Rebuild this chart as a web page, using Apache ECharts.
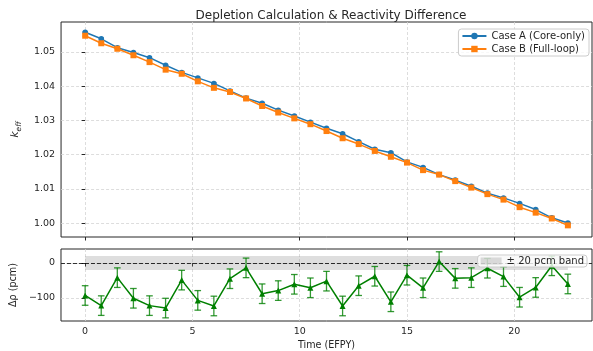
<!DOCTYPE html>
<html><head><meta charset="utf-8">
<script src="https://cdn.jsdelivr.net/npm/echarts@6/dist/echarts.min.js"></script>
<style>html,body{margin:0;padding:0;background:#fff}#c{width:593px;height:351px}</style>
</head><body><div id="c"></div>
<script>
// ---- data ----
const timeEFPY = [0, 0.75, 1.5, 2.25, 3, 3.75, 4.5, 5.25, 6, 6.75, 7.5, 8.25, 9, 9.75, 10.5, 11.25,
  12, 12.75, 13.5, 14.25, 15, 15.75, 16.5, 17.25, 18, 18.75, 19.5, 20.25, 21, 21.75, 22.5];
const keffA = [1.0557,1.0538,1.0512,1.0498,1.0483,1.0461,1.0440,1.0424,1.0408,1.0386,1.0365,1.0350,1.0330,1.0313,1.0295,1.0277,
  1.0261,1.0238,1.0216,1.0206,1.0179,1.0163,1.0142,1.0126,1.0108,1.0088,1.0074,1.0058,1.0040,1.0016,1.0001];
const keffB = [1.0547,1.0525,1.0509,1.0490,1.0470,1.0448,1.0436,1.0414,1.0395,1.0383,1.0364,1.0342,1.0323,1.0306,1.0289,1.0269,
  1.0248,1.0231,1.0211,1.0194,1.0177,1.0155,1.0142,1.0123,1.0104,1.0085,1.0069,1.0047,1.0031,1.0014,0.9994];
const errA = [0.0002,0.0002,0.0002,0.0002,0.0002,0.0002,0.0002,0.0002,0.0002,0.0002,0.0002,0.0002,0.0002,0.0002,0.0002,0.0002,
  0.0002,0.0002,0.0002,0.0002,0.0002,0.0002,0.0002,0.0002,0.0002,0.0002,0.0002,0.0002,0.0002,0.0002,0.0002];
const errB = [0.0002,0.0002,0.0002,0.0002,0.0002,0.0002,0.0002,0.0002,0.0002,0.0002,0.0002,0.0002,0.0002,0.0002,0.0002,0.0002,
  0.0002,0.0002,0.0002,0.0002,0.0002,0.0002,0.0002,0.0002,0.0002,0.0002,0.0002,0.0002,0.0002,0.0002,0.0002];
const deltaRho = [-93,-122,-42,-101,-122,-129,-49,-107,-123,-45,-14,-88,-79,-61,-71,-52,
  -123,-65,-38,-111,-35,-71,4,-44,-42,-15,-39,-98,-70,-8,-60];
const errRho = [28,28,28,28,28,28,28,28,28,28,28,28,28,28,28,28,28,28,28,28,28,28,28,28,28,28,28,28,28,28,28];
const bandLimits = [-20, 20];
const xTicks = [0, 5, 10, 15, 20];
const kTicks = [1.00, 1.01, 1.02, 1.03, 1.04, 1.05];
const rhoTicks = [-100, 0];
const titleText = 'Depletion Calculation & Reactivity Difference';
const nameA = 'Case A (Core-only)', nameB = 'Case B (Full-loop)', nameBand = '± 20 pcm band';

const FONT = 'DejaVu Sans';
const TXT = '#262626';
const TICK_FS = 9.5;
const gridLine = {show: true, lineStyle: {color: '#d4d4d4', type: [3, 2], width: 0.8}};

function errBars(name, xi, yi, vals, errs, color, cap, z) {
  return {
    type: 'custom', name, xAxisIndex: xi, yAxisIndex: yi, silent: true, z,
    data: timeEFPY.map((x, i) => [x, vals[i] - errs[i], vals[i] + errs[i]]),
    encode: {x: 0, y: [1, 2]},
    renderItem(params, api) {
      const x = api.value(0);
      const a = api.coord([x, api.value(1)]);
      const b = api.coord([x, api.value(2)]);
      const st = {stroke: color, lineWidth: 1.3};
      return {type: 'group', children: [
        {type: 'line', shape: {x1: a[0], y1: a[1], x2: b[0], y2: b[1]}, style: st},
        {type: 'line', shape: {x1: a[0] - cap, y1: a[1], x2: a[0] + cap, y2: a[1]}, style: st},
        {type: 'line', shape: {x1: b[0] - cap, y1: b[1], x2: b[0] + cap, y2: b[1]}, style: st}
      ]};
    }
  };
}

const chart = echarts.init(document.getElementById('c'));
chart.setOption({
  animation: false,
  backgroundColor: '#fff',
  title: {text: titleText, left: 326, top: 5, textAlign: 'center',
    textStyle: {fontFamily: FONT, fontSize: 12, fontWeight: 'normal', color: TXT}},
  grid: [
    {left: 60, top: 22, right: 1, height: 215, show: true, borderColor: '#262626', borderWidth: 1, backgroundColor: 'transparent'},
    {left: 60, top: 249, right: 1, height: 72, show: true, borderColor: '#262626', borderWidth: 1, backgroundColor: 'transparent'}
  ],
  legend: [
    {data: [nameA, nameB], orient: 'vertical', right: 4, top: 29, itemWidth: 24, itemHeight: 8, itemGap: 3,
      padding: [2, 4, 2, 3], borderColor: '#cccccc', borderWidth: 1, borderRadius: 3,
      backgroundColor: 'rgba(255,255,255,0.8)',
      textStyle: {fontFamily: FONT, fontSize: 10, color: TXT}},
    {data: [{name: nameBand, icon: 'rect'}], right: 6, top: 255, itemWidth: 21, itemHeight: 7,
      padding: [1, 3, 1, 3], borderColor: '#cccccc', borderWidth: 1, borderRadius: 3,
      backgroundColor: 'rgba(255,255,255,0.8)', z: 20,
      textStyle: {fontFamily: FONT, fontSize: 10, color: TXT}}
  ],
  xAxis: [
    {type: 'value', gridIndex: 0, min: -1.125, max: 23.625,
      axisLine: {show: false}, axisLabel: {show: false, customValues: xTicks},
      axisTick: {show: true, length: 3.5, customValues: xTicks, lineStyle: {color: '#262626'}},
      splitLine: gridLine},
    {type: 'value', gridIndex: 1, min: -1.125, max: 23.625,
      axisLine: {show: false},
      axisLabel: {customValues: xTicks, fontFamily: FONT, fontSize: TICK_FS, color: TXT, margin: 6},
      axisTick: {show: true, length: 3.5, customValues: xTicks, lineStyle: {color: '#262626'}},
      splitLine: gridLine,
      name: 'Time (EFPY)', nameLocation: 'middle', nameGap: 19,
      nameTextStyle: {fontFamily: FONT, fontSize: 9.6, color: TXT}}
  ],
  yAxis: [
    {type: 'value', gridIndex: 0, min: 0.996, max: 1.0587,
      axisLine: {show: false},
      axisLabel: {customValues: kTicks, formatter: v => v.toFixed(2), fontFamily: FONT, fontSize: TICK_FS, color: TXT, margin: 6},
      axisTick: {show: true, length: 3.5, customValues: kTicks, lineStyle: {color: '#262626'}},
      splitLine: gridLine,
      name: '{k|k}{s|eff}', nameLocation: 'middle', nameGap: 32, nameRotate: 90,
      nameTextStyle: {rich: {
        k: {fontFamily: FONT, fontStyle: 'italic', fontSize: 10.5, color: TXT, lineHeight: 16, verticalAlign: 'middle'},
        s: {fontFamily: FONT, fontStyle: 'italic', fontSize: 7.5, color: TXT, lineHeight: 16, verticalAlign: 'bottom', padding: [7, 0, 0, 0]}
      }}},
    {type: 'value', gridIndex: 1, min: -166, max: 40,
      axisLine: {show: false},
      axisLabel: {customValues: rhoTicks, formatter: v => (v < 0 ? '\u2212' + Math.abs(v) : String(v)), fontFamily: FONT, fontSize: TICK_FS, color: TXT, margin: 6},
      axisTick: {show: true, length: 3.5, customValues: rhoTicks, lineStyle: {color: '#262626'}},
      splitLine: gridLine,
      name: 'Δρ (pcm)', nameLocation: 'middle', nameGap: 35,
      nameTextStyle: {fontFamily: FONT, fontSize: 9.6, color: TXT}}
  ],
  series: [
    errBars('errA', 0, 0, keffA, errA, '#1f77b4', 2.5, 2),
    {type: 'line', name: nameA, xAxisIndex: 0, yAxisIndex: 0, z: 3,
      data: timeEFPY.map((x, i) => [x, keffA[i]]),
      symbol: 'circle', symbolSize: 5.5, itemStyle: {color: '#1f77b4'}, lineStyle: {width: 1.5, color: '#1f77b4'}},
    errBars('errB', 0, 0, keffB, errB, '#ff7f0e', 2.5, 4),
    {type: 'line', name: nameB, xAxisIndex: 0, yAxisIndex: 0, z: 5,
      data: timeEFPY.map((x, i) => [x, keffB[i]]),
      symbol: 'rect', symbolSize: 6, itemStyle: {color: '#ff7f0e'}, lineStyle: {width: 1.5, color: '#ff7f0e'}},
    {type: 'custom', name: nameBand, xAxisIndex: 1, yAxisIndex: 1, z: 1, silent: true,
      itemStyle: {color: 'rgba(128,128,128,0.26)'},
      data: [[timeEFPY[0], timeEFPY[timeEFPY.length - 1], bandLimits[0], bandLimits[1]]],
      encode: {x: [0, 1], y: [2, 3]},
      renderItem(params, api) {
        const p1 = api.coord([api.value(0), api.value(3)]);
        const p2 = api.coord([api.value(1), api.value(2)]);
        return {type: 'rect', shape: {x: p1[0], y: p1[1], width: p2[0] - p1[0], height: p2[1] - p1[1]},
          style: {fill: 'rgba(128,128,128,0.26)'}};
      }},
    errBars('errRho', 1, 1, deltaRho, errRho, 'rgba(0,128,0,0.8)', 3.3, 6),
    {type: 'line', name: 'Δρ', xAxisIndex: 1, yAxisIndex: 1, z: 7,
      data: timeEFPY.map((x, i) => [x, deltaRho[i]]),
      symbol: 'triangle', symbolSize: 6, itemStyle: {color: '#008000'}, lineStyle: {width: 1.5, color: '#008000'},
      markLine: {silent: true, symbol: 'none', label: {show: false},
        lineStyle: {color: '#000', type: [4, 2], width: 0.8}, data: [{yAxis: 0}]}}
  ]
});
</script></body></html>
